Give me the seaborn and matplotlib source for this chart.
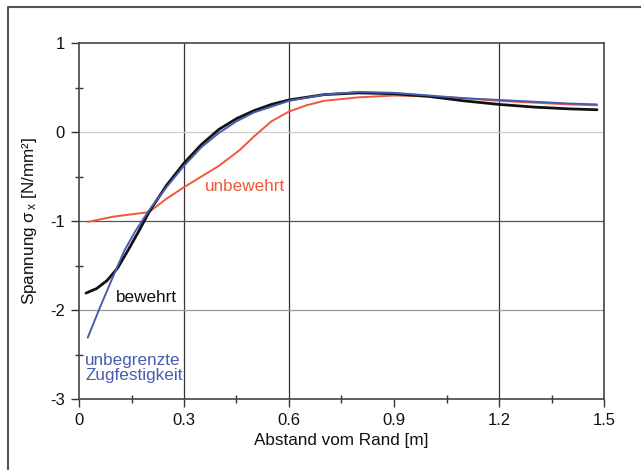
import matplotlib
matplotlib.use("Agg")
import matplotlib.pyplot as plt
from matplotlib.lines import Line2D
from matplotlib.ticker import MultipleLocator
import numpy as np
import pandas as pd
import seaborn as sns

# Stress distribution along the distance from the edge
x_bewehrt = [0.02, 0.05, 0.08, 0.11, 0.14, 0.17, 0.2, 0.25, 0.3, 0.35, 0.4, 0.45,
             0.5, 0.55, 0.6, 0.7, 0.8, 0.9, 1.0, 1.1, 1.2, 1.3, 1.4, 1.48]
y_bewehrt = [-1.81, -1.76, -1.67, -1.53, -1.33, -1.12, -0.90, -0.60, -0.35, -0.14, 0.03, 0.15,
             0.24, 0.31, 0.36, 0.42, 0.44, 0.43, 0.40, 0.35, 0.31, 0.28, 0.26, 0.25]

x_unbegrenzt = [0.025, 0.06, 0.1, 0.13, 0.16, 0.2, 0.25, 0.3, 0.35, 0.4, 0.45, 0.5,
                0.6, 0.7, 0.8, 0.9, 1.0, 1.1, 1.2, 1.3, 1.4, 1.48]
y_unbegrenzt = [-2.31, -1.97, -1.60, -1.33, -1.12, -0.88, -0.62, -0.38, -0.17, -0.01, 0.12, 0.22,
                0.35, 0.42, 0.45, 0.44, 0.41, 0.38, 0.36, 0.34, 0.32, 0.31]

x_unbewehrt = [0.025, 0.1, 0.2, 0.25, 0.3, 0.35, 0.4, 0.46, 0.5, 0.55, 0.6, 0.65,
               0.7, 0.8, 0.9, 1.0, 1.1, 1.2, 1.3, 1.4, 1.48]
y_unbewehrt = [-1.01, -0.95, -0.90, -0.75, -0.62, -0.50, -0.38, -0.20, -0.05, 0.12, 0.23, 0.30,
               0.35, 0.39, 0.41, 0.40, 0.38, 0.35, 0.33, 0.31, 0.30]

x_ticks = [0, 0.3, 0.6, 0.9, 1.2, 1.5]
x_ticklabels = ["0", "0.3", "0.6", "0.9", "1.2", "1.5"]
y_ticks = [-3, -2, -1, 0, 1]
y_ticklabels = ["-3", "-2", "-1", "0", "1"]

RED = "#f0583a"
BLUE = "#4b5cb0"
BLACK = "#111111"

sns.set_style("white")
plt.rcParams["font.family"] = ["Liberation Sans", "DejaVu Sans"]
plt.rcParams["mathtext.fontset"] = "custom"
plt.rcParams["mathtext.rm"] = "Liberation Sans"
plt.rcParams["mathtext.it"] = "Liberation Sans"
plt.rcParams["mathtext.bf"] = "Liberation Sans:bold"

fig = plt.figure(figsize=(6.41, 4.70), dpi=100)
ax = fig.add_axes([79 / 641, 1 - 399 / 470, 525 / 641, 356 / 470])

# grid lines
for xv in [0.3, 0.6, 1.2]:
    ax.axvline(xv, color="#333333", lw=0.9, zorder=1)
ax.axhline(0, color="#cfcfcf", lw=0.9, zorder=1)
ax.axhline(-1, color="#555555", lw=0.9, zorder=1)
ax.axhline(-2, color="#9a9a9a", lw=0.9, zorder=1)

df_r = pd.DataFrame({"x": x_unbewehrt, "y": y_unbewehrt})
df_b = pd.DataFrame({"x": x_unbegrenzt, "y": y_unbegrenzt})
df_k = pd.DataFrame({"x": x_bewehrt, "y": y_bewehrt})

sns.lineplot(data=df_r, x="x", y="y", ax=ax, color=RED, lw=1.4, zorder=3)
sns.lineplot(data=df_k, x="x", y="y", ax=ax, color=BLACK, lw=2.0, zorder=3)
sns.lineplot(data=df_b, x="x", y="y", ax=ax, color=BLUE, lw=1.4, zorder=4)

ax.set_xlim(0, 1.5)
ax.set_ylim(-3, 1)
ax.set_xticks(x_ticks)
ax.set_xticklabels(x_ticklabels)
ax.set_yticks(y_ticks)
ax.set_yticklabels(y_ticklabels)
ax.xaxis.set_minor_locator(MultipleLocator(0.15))
ax.yaxis.set_minor_locator(MultipleLocator(0.5))
ax.tick_params(which="major", direction="out", length=6, width=1.0, color="#333333",
               labelsize=12, labelcolor="#111111", pad=4)
ax.tick_params(which="minor", direction="inout", length=6, width=1.0, color="#333333")
ax.tick_params(bottom=True, left=True, which="both")

for sp in ax.spines.values():
    sp.set_color("#444444")
    sp.set_linewidth(1.2)

ax.set_xlabel("Abstand vom Rand [m]", fontsize=12.3, color="#111111", labelpad=4)
ax.set_ylabel(r"Spannung $\sigma_{\,\mathrm{x}}$ [N/mm²]", fontsize=12.3,
              color="#111111", labelpad=8)

ax.text(0.474, -0.61, "unbewehrt", color=RED, fontsize=12.3, ha="center", va="center")
ax.text(0.194, -1.86, "bewehrt", color=BLACK, fontsize=12.3, ha="center", va="center")
ax.text(0.018, -2.65, "unbegrenzte\nZugfestigkeit", color=BLUE, fontsize=12.3,
        ha="left", va="center", linespacing=1.05)

# outer frame (top and left edges)
fig.add_artist(Line2D([8 / 641, 8 / 641, 1.0], [0.0, 1 - 6.5 / 470, 1 - 6.5 / 470],
                      transform=fig.transFigure, color="#555555", lw=1.5))

fig.savefig("out.png", dpi=100)
